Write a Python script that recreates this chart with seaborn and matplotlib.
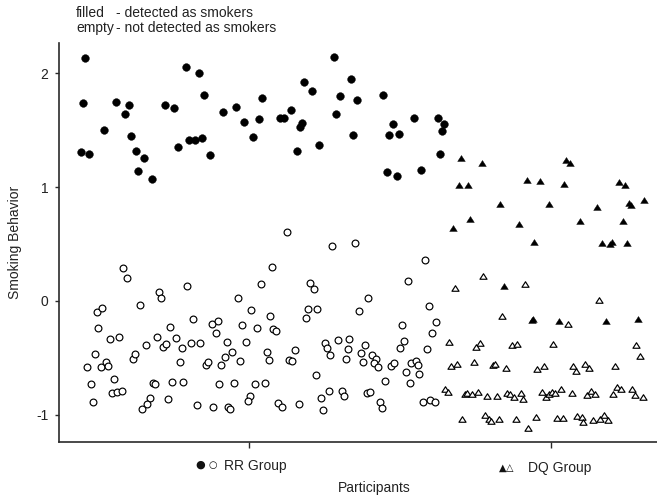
import matplotlib
matplotlib.use("Agg")
import matplotlib.pyplot as plt
import matplotlib.transforms as mtransforms
from matplotlib.path import Path
import pandas as pd
import seaborn as sns

# ---------------- data (participant position, smoking behavior) ----------------
group_names = ["RR Group", "DQ Group"]
group_ticks = [190, 492]
y_ticks = [-1, 0, 1, 2]
y_ticklabels = ["-1", "0", "1", "2"]

# RR group, detected as smokers (filled circles)
rr_det_x = [26, 24, 22, 30, 45, 57, 66, 70, 72, 77, 85, 79, 93, 106, 115, 119, 127, 140, 145, 130,
            136, 143, 151, 164, 177, 185, 194, 200, 203, 221, 225, 232, 245, 253, 243, 241, 238, 260,
            275, 277, 281, 292, 298, 294, 324, 334, 330, 340, 328, 338, 355, 362, 379, 385, 383, 381]
rr_det_y = [2.13, 1.74, 1.31, 1.29, 1.50, 1.75, 1.645, 1.72, 1.445, 1.32, 1.255, 1.14, 1.075, 1.72,
            1.695, 1.35, 2.05, 2.00, 1.81, 1.415, 1.415, 1.43, 1.28, 1.66, 1.70, 1.57, 1.44, 1.60,
            1.78, 1.61, 1.61, 1.68, 1.92, 1.84, 1.56, 1.53, 1.32, 1.37, 2.14, 1.64, 1.80, 1.95,
            1.765, 1.455, 1.805, 1.555, 1.46, 1.465, 1.13, 1.10, 1.61, 1.146, 1.61, 1.55, 1.495, 1.29]

# RR group, not detected as smokers (empty circles)
rr_non_x = [64, 68, 38, 43, 81, 100, 102, 128, 179, 39, 51, 60, 36, 28, 42, 47, 49, 32, 34, 55,
            53, 58, 63, 74, 76, 87, 98, 104, 107, 111, 117, 123, 121, 132, 141, 94, 96, 113, 124, 91,
            88, 83, 109, 138, 154, 169, 171, 153, 159, 157, 168, 173, 166, 162, 147, 149, 181, 160,
            175, 183, 187, 228, 273, 296, 366, 213, 202, 251, 255, 349, 309, 192, 211, 249, 258, 247,
            300, 370, 377, 373, 343, 345, 341, 368, 198, 214, 217, 208, 210, 230, 233, 236, 266, 268,
            271, 279, 290, 289, 287, 306, 302, 304, 313, 317, 315, 319, 332, 335, 352, 357, 359, 347,
            360, 351, 326, 257, 196, 206, 191, 189, 219, 223, 240, 262, 270, 264, 283, 285, 308, 311,
            321, 323, 364, 371, 376, 134]
rr_non_y = [0.29, 0.205, -0.094, -0.065, -0.032, 0.077, 0.026, 0.135, 0.03, -0.235, -0.337, -0.314,
            -0.463, -0.578, -0.578, -0.54, -0.57, -0.73, -0.885, -0.686, -0.81, -0.80, -0.79, -0.507,
            -0.466, -0.387, -0.32, -0.40, -0.378, -0.23, -0.325, -0.41, -0.54, -0.365, -0.365, -0.72,
            -0.73, -0.71, -0.71, -0.85, -0.90, -0.944, -0.86, -0.915, -0.93, -0.93, -0.95, -0.205,
            -0.173, -0.279, -0.36, -0.446, -0.49, -0.56, -0.563, -0.54, -0.525, -0.733, -0.72, -0.21,
            -0.36, 0.607, 0.487, 0.513, 0.363, 0.296, 0.15, 0.155, 0.108, 0.176, 0.03, -0.08, -0.13,
            -0.073, -0.073, -0.15, -0.088, -0.047, -0.185, -0.285, -0.214, -0.355, -0.41, -0.42,
            -0.24, -0.244, -0.26, -0.449, -0.52, -0.52, -0.53, -0.434, -0.372, -0.41, -0.475, -0.34,
            -0.334, -0.42, -0.51, -0.384, -0.457, -0.534, -0.472, -0.507, -0.543, -0.58, -0.572,
            -0.545, -0.548, -0.528, -0.566, -0.627, -0.64, -0.721, -0.70, -0.654, -0.733, -0.724,
            -0.83, -0.877, -0.894, -0.932, -0.90, -0.856, -0.786, -0.96, -0.786, -0.833, -0.806,
            -0.80, -0.89, -0.94, -0.89, -0.868, -0.89, -0.155]

# DQ group, detected as smokers (filled triangles)
dq_det_x = [402, 423, 400, 409, 441, 411, 394, 468, 481, 507, 511, 505, 490, 460, 475, 521, 538,
            560, 566, 570, 572, 585, 564, 543, 551, 553, 568, 445, 473, 474, 500, 547, 579]
dq_det_y = [1.255, 1.21, 1.015, 1.015, 0.855, 0.72, 0.645, 1.06, 1.05, 1.24, 1.21, 1.03, 0.855,
            0.675, 0.515, 0.705, 0.825, 1.045, 1.02, 0.86, 0.845, 0.885, 0.705, 0.51, 0.50, 0.515,
            0.51, 0.13, -0.17, -0.16, -0.18, -0.176, -0.16]

# DQ group, not detected as smokers (empty triangles)
dq_non_x = [424, 396, 466, 540, 443, 509, 390, 421, 417, 453, 458, 494, 577, 581, 392, 398, 415,
            434, 436, 447, 478, 485, 514, 517, 526, 530, 556, 386, 389, 406, 408, 413, 419, 428, 438,
            448, 451, 455, 462, 464, 483, 487, 490, 493, 496, 502, 513, 528, 532, 536, 554, 558, 562,
            573, 576, 584, 403, 426, 430, 432, 440, 457, 469, 477, 498, 504, 518, 523, 524, 534, 541,
            545, 549]
dq_non_y = [0.215, 0.11, 0.145, 0.01, -0.13, -0.205, -0.36, -0.365, -0.40, -0.385, -0.38, -0.375,
            -0.39, -0.485, -0.57, -0.555, -0.54, -0.56, -0.555, -0.59, -0.60, -0.57, -0.57, -0.615,
            -0.55, -0.585, -0.57, -0.77, -0.80, -0.82, -0.805, -0.82, -0.80, -0.83, -0.83, -0.805,
            -0.82, -0.84, -0.805, -0.86, -0.795, -0.84, -0.82, -0.795, -0.81, -0.775, -0.805, -0.825,
            -0.79, -0.82, -0.82, -0.755, -0.775, -0.775, -0.825, -0.84, -1.04, -1.00, -1.04, -1.05,
            -1.04, -1.04, -1.115, -1.02, -1.03, -1.03, -1.01, -1.02, -1.06, -1.045, -1.04, -1.00,
            -1.045]

frames = []
for gx, gy, grp, det in [(rr_det_x, rr_det_y, "RR", "filled"),
                         (rr_non_x, rr_non_y, "RR", "empty"),
                         (dq_det_x, dq_det_y, "DQ", "filled"),
                         (dq_non_x, dq_non_y, "DQ", "empty")]:
    frames.append(pd.DataFrame({"pos": gx, "smoking": gy, "group": grp, "detected": det}))
df = pd.concat(frames, ignore_index=True)

# ---------------- style ----------------
sns.set_theme(style="ticks")
plt.rcParams["font.family"] = ["Liberation Sans", "DejaVu Sans"]
plt.rcParams["axes.unicode_minus"] = False

fig = plt.figure(figsize=(6.57, 4.98), dpi=100)
ax = fig.add_axes([59 / 657, 56 / 498, 598 / 657, 399 / 498])

# wide, closed triangle marker
tri = Path([(-1, -0.78), (1, -0.78), (0, 0.78), (-1, -0.78)],
           [Path.MOVETO, Path.LINETO, Path.LINETO, Path.CLOSEPOLY])

styles = {
    ("RR", "filled"): dict(marker="o", s=31, color="black", edgecolor="black", linewidth=0.3),
    ("RR", "empty"): dict(marker="o", s=24, color="black", facecolor="white", edgecolor="black", linewidth=0.85),
    ("DQ", "filled"): dict(marker=tri, s=30, color="black", edgecolor="black", linewidth=0.3),
    ("DQ", "empty"): dict(marker=tri, s=26, color="black", facecolor="white", edgecolor="black", linewidth=0.85),
}
for (grp, det), kw in styles.items():
    sub = df[(df["group"] == grp) & (df["detected"] == det)]
    sns.scatterplot(data=sub, x="pos", y="smoking", ax=ax, legend=False, zorder=3, **kw)

ax.set_xlim(0, 598)
ax.set_ylim(-1.238, 2.265)
sns.despine(ax=ax)
for side in ["left", "bottom"]:
    ax.spines[side].set_color("#2a2a2a")
    ax.spines[side].set_linewidth(1.2)

ax.set_yticks(y_ticks)
ax.set_yticklabels(y_ticklabels, fontsize=10, color="#222222")
ax.tick_params(axis="y", length=3, width=1, pad=4.5, color="#2a2a2a")
ax.set_xticks(group_ticks)
ax.set_xticklabels(["", ""])
ax.tick_params(axis="x", length=4.5, width=1, color="#2a2a2a")

ax.set_ylabel("Smoking Behavior", fontsize=10, color="#222222")
ax.yaxis.set_label_coords(-0.062, 0.5)
ax.set_xlabel("Participants", fontsize=10, color="#222222")
ax.xaxis.set_label_coords(0.5276, -0.0965)

# group labels with symbols under the ticks
trans = mtransforms.blended_transform_factory(ax.transData, ax.transAxes)
sym_font = ["DejaVu Sans"]
ax.text(141, -0.0576, "\u25CF", transform=trans, ha="center", va="center", fontsize=8,
        family=sym_font, color="#111111")
ax.text(154, -0.0576, "\u25CB", transform=trans, ha="center", va="center", fontsize=7,
        family=sym_font, color="#111111")
ax.text(165, -0.0702, group_names[0], transform=trans, ha="left", va="baseline", fontsize=10,
        color="#222222")
ax.text(443.5, -0.065, "\u25B2", transform=trans, ha="center", va="center", fontsize=7,
        family=sym_font, color="#111111")
ax.text(451, -0.065, "\u25B3", transform=trans, ha="center", va="center", fontsize=7,
        family=sym_font, color="#111111")
ax.text(469, -0.076, group_names[1], transform=trans, ha="left", va="baseline", fontsize=10,
        color="#222222")

# header notes (two aligned columns)
header_top = 1 - 5.6 / 498
fig.text(76 / 657, header_top, "filled\nempty", fontsize=10, va="top", ha="left",
         linespacing=1.146, color="#222222")
fig.text(116.5 / 657, header_top, "- detected as smokers\n- not detected as smokers", fontsize=10,
         va="top", ha="left", linespacing=1.146, color="#222222")

fig.savefig("out.png", dpi=100)
